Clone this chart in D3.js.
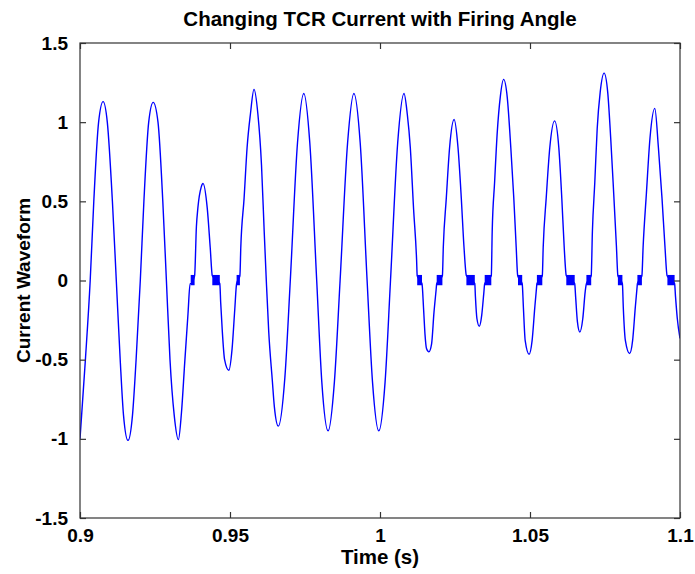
<!DOCTYPE html>
<html>
<head>
<meta charset="utf-8">
<script src="https://cdn.jsdelivr.net/npm/d3@7"></script>
<style>
  html, body { margin: 0; padding: 0; background: #ffffff; }
  svg { display: block; }
  text { font-family: "Liberation Sans", Arial, Helvetica, sans-serif; font-weight: bold; fill: #000; }
</style>
</head>
<body>
<div id="chart"></div>
<script>
// ---- data ----
const timeValues = [
  0.9000,0.9018,0.9034,0.9046,0.9062,0.9077,0.9091,0.9108,0.9121,0.9134,0.9145,0.9160,
  0.9175,0.9187,0.9201,0.9213,0.9229,0.9244,0.9260,0.9276,0.9288,0.9300,0.9314,0.9328,
  0.9338,0.9349,0.9360,0.9367,0.9369,0.9382,0.9388,0.9393,0.9404,0.9410,0.9424,0.9434,
  0.9441,0.9466,0.9469,0.9474,0.9482,0.9496,0.9507,0.9516,0.9522,0.9533,0.9536,0.9547,
  0.9557,0.9568,0.9580,0.9593,0.9605,0.9614,0.9621,0.9629,0.9641,0.9648,0.9661,
  0.9683,0.9701,0.9725,0.9746,0.9766,0.9789,0.9806,0.9827,0.9848,0.9867,0.9892,0.9913,
  0.9934,0.9957,0.9975,0.9996,1.0017,1.0035,1.0059,1.0080,1.0091,1.0101,1.0112,1.0122,
  1.0124,1.0140,1.0145,1.0150,1.0155,1.0163,1.0172,1.0180,1.0187,1.0189,1.0208,1.0211,
  1.0221,1.0232,1.0247,1.0260,1.0271,1.0280,1.0288,1.0316,1.0318,1.0323,1.0331,1.0339,
  1.0346,1.0349,1.0371,1.0374,1.0382,1.0391,1.0401,1.0412,1.0424,1.0436,1.0446,1.0454,
  1.0459,1.0474,1.0478,1.0484,1.0497,1.0507,1.0516,1.0522,1.0523,1.0541,1.0544,1.0554,
  1.0566,1.0582,1.0596,1.0606,1.0614,1.0621,1.0649,1.0652,1.0658,1.0666,1.0676,1.0684,
  1.0688,1.0704,1.0708,1.0716,1.0724,1.0734,1.0747,1.0759,1.0769,1.0779,1.0788,1.0793,
  1.0808,1.0811,1.0818,1.0832,1.0842,1.0851,1.0857,1.0858,1.0873,1.0877,1.0888,1.0900,
  1.0916,1.0928,1.0940,1.0950,1.0957,1.0982,1.0985,1.0991,1.1000
];
const currentValues = [
  -1.00,-0.50,0.00,0.50,1.00,1.13,1.00,0.50,0.00,-0.50,-0.85,-1.01,
  -0.85,-0.50,0.00,0.50,1.00,1.125,1.00,0.50,0.00,-0.50,-0.85,-1.005,
  -0.84,-0.52,-0.21,-0.02,-0.02,0.03,0.34,0.46,0.59,0.613,0.46,0.21,
  0.03,-0.02,-0.14,-0.31,-0.50,-0.567,-0.43,-0.18,-0.02,0.03,0.21,0.52,
  0.84,1.05,1.207,1.05,0.73,0.31,0.00,-0.32,-0.63,-0.80,-0.92,
  -0.61,0.00,0.87,1.181,0.87,0.00,-0.64,-0.95,-0.64,0.00,0.87,1.181,
  0.87,0.00,-0.64,-0.95,-0.64,0.00,0.87,1.181,1.05,0.84,0.45,0.13,
  0.03,-0.02,-0.17,-0.34,-0.43,-0.451,-0.40,-0.20,-0.06,-0.02,0.03,0.21,
  0.52,0.84,1.017,0.84,0.52,0.21,0.03,-0.02,-0.10,-0.24,-0.289,-0.22,
  -0.08,-0.02,0.03,0.31,0.62,0.94,1.16,1.27,1.16,0.84,0.52,0.21,
  0.03,-0.02,-0.17,-0.38,-0.466,-0.38,-0.17,-0.04,-0.02,0.03,0.21,0.52,
  0.84,1.008,0.84,0.52,0.21,0.03,-0.02,-0.10,-0.26,-0.325,-0.24,-0.07,
  -0.02,0.03,0.31,0.62,0.96,1.19,1.31,1.19,0.90,0.55,0.22,0.03,
  -0.02,-0.17,-0.38,-0.461,-0.38,-0.17,-0.04,-0.02,0.03,0.21,0.55,0.90,
  1.087,0.84,0.52,0.21,0.03,-0.02,-0.10,-0.24,-0.366
];
// blocking intervals where the current chatters around zero
const gapStart = [0.9369,0.9441,0.9522,1.0124,1.0189,1.0288,1.0349,1.0460,1.0523,1.0621,1.0688,1.0793,1.0858,1.0958];
const gapEnd   = [0.9382,0.9466,0.9533,1.0140,1.0208,1.0316,1.0371,1.0474,1.0541,1.0649,1.0704,1.0808,1.0873,1.0982];
const gapLow = -0.03, gapHigh = 0.035;

const xTickValues = [0.9, 0.95, 1, 1.05, 1.1];
const xTickLabels = ["0.9", "0.95", "1", "1.05", "1.1"];
const yTickValues = [-1.5, -1, -0.5, 0, 0.5, 1, 1.5];
const yTickLabels = ["-1.5", "-1", "-0.5", "0", "0.5", "1", "1.5"];

const titleText = "Changing TCR Current with Firing Angle";
const xLabelText = "Time (s)";
const yLabelText = "Current Waveform";

// ---- layout ----
const W = 695, H = 574;
const plot = { left: 80, right: 680, top: 43, bottom: 518 };

const svg = d3.select("#chart").append("svg")
  .attr("width", W).attr("height", H);

svg.append("rect").attr("width", W).attr("height", H).attr("fill", "#ffffff");

const x = d3.scaleLinear().domain([0.9, 1.1]).range([plot.left, plot.right]);
const y = d3.scaleLinear().domain([-1.5, 1.5]).range([plot.bottom, plot.top]);

const data = timeValues.map((t, i) => ({ t, v: currentValues[i] }));

svg.append("clipPath").attr("id", "clip")
  .append("rect").attr("x", plot.left).attr("y", plot.top)
  .attr("width", plot.right - plot.left).attr("height", plot.bottom - plot.top);

const g = svg.append("g").attr("clip-path", "url(#clip)");

const line = d3.line()
  .x(d => x(d.t)).y(d => y(d.v))
  .curve(d3.curveMonotoneX);

g.append("path")
  .datum(data)
  .attr("d", line)
  .attr("fill", "none")
  .attr("stroke", "#0000ff")
  .attr("stroke-width", 1.4)
  .attr("stroke-linejoin", "round");

g.selectAll("rect.gap")
  .data(gapStart.map((s, i) => ({ s, e: gapEnd[i] })))
  .enter().append("rect")
  .attr("class", "gap")
  .attr("x", d => x(d.s))
  .attr("width", d => x(d.e) - x(d.s))
  .attr("y", y(gapHigh))
  .attr("height", y(gapLow) - y(gapHigh))
  .attr("fill", "#0000ff");

// ---- axes (MATLAB style box with inward ticks) ----
const axisColor = "#333333";
const tickLen = 6;

const xAxisBottom = d3.axisBottom(x).tickValues(xTickValues).tickSize(-tickLen)
  .tickFormat((d, i) => xTickLabels[i]).tickPadding(11);
const xAxisTop = d3.axisTop(x).tickValues(xTickValues).tickSize(-tickLen).tickFormat("");
const yAxisLeft = d3.axisLeft(y).tickValues(yTickValues).tickSize(-tickLen)
  .tickFormat((d, i) => yTickLabels[i]).tickPadding(12);
const yAxisRight = d3.axisRight(y).tickValues(yTickValues).tickSize(-tickLen).tickFormat("");

function styleAxis(sel) {
  sel.select(".domain").attr("stroke", axisColor).attr("stroke-width", 1.2);
  sel.selectAll(".tick line").attr("stroke", axisColor).attr("stroke-width", 1.2);
  sel.selectAll(".tick text")
    .attr("fill", "#000")
    .style("font-family", "'Liberation Sans', Arial, sans-serif")
    .style("font-weight", "bold")
    .style("font-size", "19px");
}

svg.append("g").attr("transform", `translate(0,${plot.bottom})`).call(xAxisBottom).call(styleAxis);
svg.append("g").attr("transform", `translate(0,${plot.top})`).call(xAxisTop).call(styleAxis);
svg.append("g").attr("transform", `translate(${plot.left},0)`).call(yAxisLeft).call(styleAxis);
svg.append("g").attr("transform", `translate(${plot.right},0)`).call(yAxisRight).call(styleAxis);

svg.selectAll(".domain").attr("d", null);
svg.append("rect")
  .attr("x", plot.left).attr("y", plot.top)
  .attr("width", plot.right - plot.left).attr("height", plot.bottom - plot.top)
  .attr("fill", "none").attr("stroke", axisColor).attr("stroke-width", 1.2);

// ---- titles ----
svg.append("text")
  .attr("x", (plot.left + plot.right) / 2).attr("y", 26)
  .attr("text-anchor", "middle")
  .style("font-size", "20.5px")
  .text(titleText);

svg.append("text")
  .attr("x", (plot.left + plot.right) / 2).attr("y", 564)
  .attr("text-anchor", "middle")
  .style("font-size", "20.5px")
  .text(xLabelText);

svg.append("text")
  .attr("transform", `translate(30,${(plot.top + plot.bottom) / 2}) rotate(-90)`)
  .attr("text-anchor", "middle")
  .style("font-size", "19px")
  .text(yLabelText);
</script>
</body>
</html>
